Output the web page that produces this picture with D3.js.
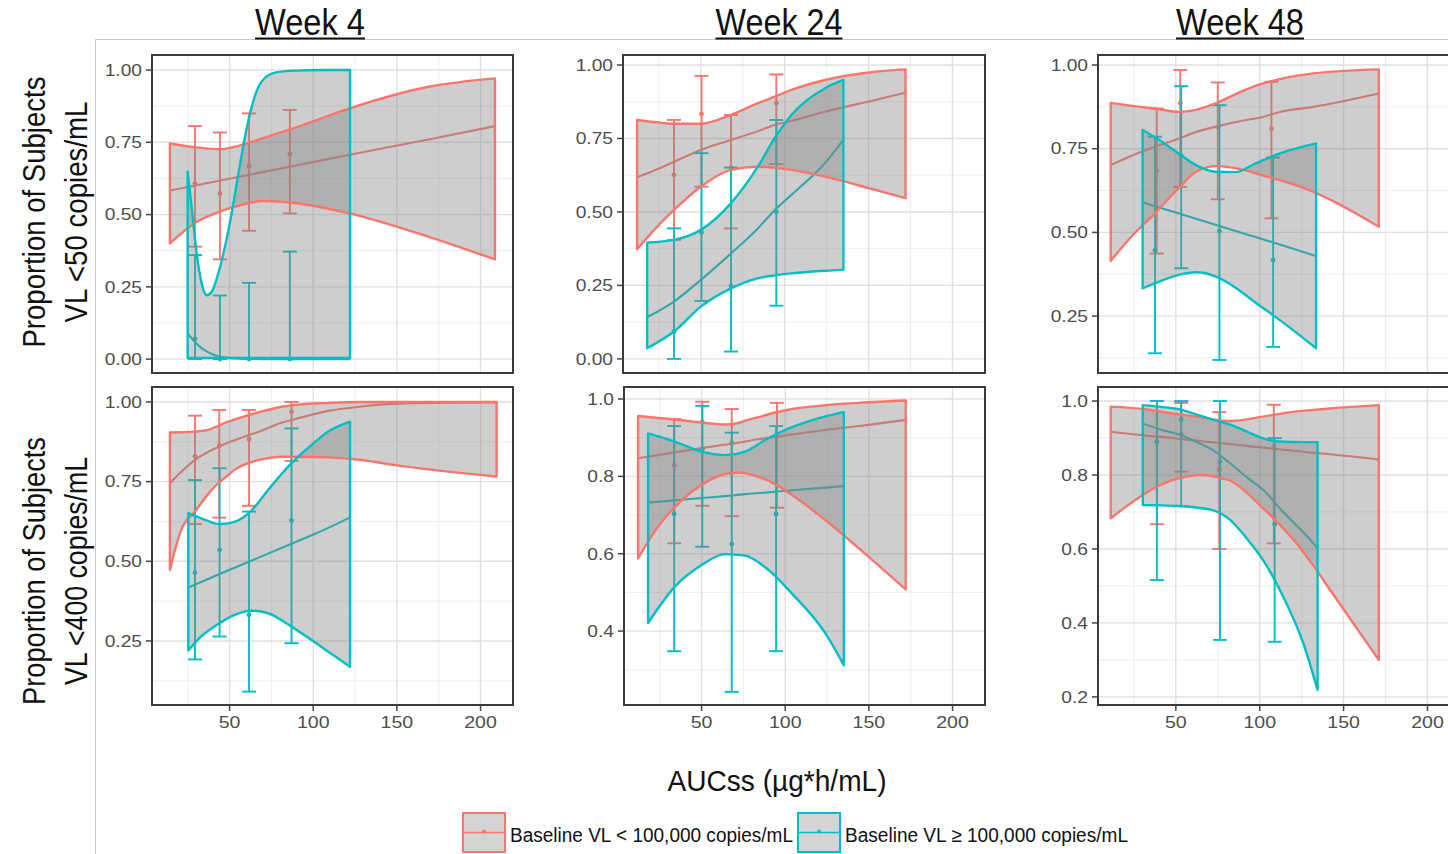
<!DOCTYPE html>
<html><head><meta charset="utf-8">
<script src="https://cdn.jsdelivr.net/npm/d3@7"></script>
<style>body{margin:0;background:#fff;} svg{display:block;font-family:"Liberation Sans",Arial,sans-serif;}</style>
</head><body><svg id="chart" width="1448" height="854"></svg>
<script>
// ---------- DATA ----------
const weekTitles = ["Week 4", "Week 24", "Week 48"];
const rowTitles = [["Proportion of Subjects", "VL <50 copies/mL"], ["Proportion of Subjects", "VL <400 copies/mL"]];
const xAxisTitle = "AUCss (\u00b5g*h/mL)";
const legendLabels = ["Baseline VL < 100,000 copies/mL", "Baseline VL \u2265 100,000 copies/mL"];
const xTicks = [50, 100, 150, 200];
const xDomain = [3.6, 219.4];
const yTicks2 = [0, 0.25, 0.5, 0.75, 1.0];
const yTicks1 = [0.2, 0.4, 0.6, 0.8, 1.0];

// bands: [AUC, lower, fit, upper]; points: [AUC, proportion, lowerCI, upperCI]
// Week 4, VL<50
const w4v50RedBand = [[14.3,0.40,0.583,0.746],[29,0.47,0.600,0.733],[44,0.51,0.617,0.726],[55,0.53,0.630,0.737],[69,0.547,0.646,0.763],[89,0.54,0.669,0.80],[121,0.505,0.706,0.866],[169,0.423,0.760,0.942],[208.6,0.345,0.806,0.971]];
const w4v50TealBand = [[24.9,0.004,0.089,0.648],[27.3,0.004,0.072,0.527],[30.3,0.004,0.053,0.366],[33.3,0.004,0.038,0.262],[36.3,0.004,0.027,0.221],[39.3,0.004,0.018,0.233],[43.2,0.004,0.010,0.296],[47.2,0.004,0.006,0.389],[51.2,0.004,0.003,0.504],[55.2,0.004,0.002,0.64],[59.2,0.004,0.001,0.769],[63.2,0.004,0.001,0.873],[69.1,0.004,0.0,0.96],[77.1,0.004,0.0,0.991],[89,0.004,0.0,0.998],[105,0.004,0.0,1.0],[122,0.004,0.0,1.0]];
const w4v50RedPts = [[29.3,0.608,0.389,0.806],[44.2,0.573,0.345,0.784],[61.6,0.668,0.444,0.85],[86,0.709,0.504,0.862]];
const w4v50TealPts = [[29.3,0.07,0.0,0.36],[44.2,0.0,0.0,0.22],[61.6,0.0,0.0,0.264],[86,0.0,0.0,0.372]];
// Week 24, VL<50
const w24v50RedBand = [[12,0.373,0.618,0.813],[24,0.45,0.645,0.805],[34,0.507,0.671,0.80],[50,0.586,0.711,0.80],[68,0.643,0.745,0.83],[84,0.654,0.775,0.87],[94,0.65,0.796,0.892],[104,0.643,0.81,0.915],[124,0.62,0.841,0.949],[154,0.575,0.881,0.977],[172,0.547,0.906,0.985]];
const w24v50TealBand = [[18,0.036,0.142,0.396],[34,0.093,0.195,0.405],[50,0.178,0.269,0.439],[68,0.24,0.359,0.53],[84,0.274,0.444,0.654],[94,0.284,0.506,0.751],[104,0.291,0.558,0.83],[124,0.30,0.666,0.921],[135,0.303,0.745,0.949]];
const w24v50RedPts = [[34,0.626,0.405,0.813],[50.4,0.833,0.586,0.963],[68,0.651,0.444,0.83],[95,0.870,0.663,0.968]];
const w24v50TealPts = [[34,0.093,0.0,0.444],[50.4,0.43,0.197,0.70],[68,0.248,0.025,0.651],[95,0.501,0.181,0.813]];
// Week 48, VL<50
const w48v50RedBand = [[11.2,0.415,0.701,0.887],[24,0.49,0.73,0.878],[37.6,0.557,0.756,0.870],[51.6,0.632,0.78,0.86],[62,0.681,0.80,0.866],[74,0.698,0.816,0.886],[91,0.686,0.835,0.925],[102,0.67,0.845,0.945],[112,0.656,0.86,0.958],[132,0.621,0.875,0.975],[171,0.517,0.915,0.987]];
const w48v50TealBand = [[30.2,0.333,0.590,0.806],[38.6,0.35,0.577,0.781],[51.6,0.373,0.557,0.736],[62,0.381,0.541,0.701],[74,0.368,0.522,0.681],[85.6,0.335,0.504,0.68],[97.6,0.29,0.486,0.706],[112,0.238,0.464,0.736],[133.6,0.154,0.429,0.766]];
const w48v50RedPts = [[38.6,0.684,0.437,0.870],[52.6,0.886,0.636,0.985],[75,0.814,0.599,0.948],[107,0.81,0.542,0.95]];
const w48v50TealPts = [[37.6,0.447,0.139,0.786],[53.2,0.729,0.393,0.937],[76,0.504,0.119,0.88],[108,0.417,0.158,0.724]];
// Week 4, VL<400
const w4v400RedBand = [[14.3,0.473,0.745,0.904],[21,0.598,0.78,0.905],[29.3,0.656,0.818,0.907],[37,0.71,0.843,0.912],[41,0.734,0.853,0.92],[49,0.77,0.872,0.938],[53,0.787,0.88,0.945],[69,0.82,0.91,0.970],[81,0.828,0.935,0.985],[89,0.828,0.946,0.991],[109,0.826,0.972,0.997],[129,0.818,0.986,1.0],[149,0.802,0.994,1.0],[209.6,0.766,0.999,1.0]];
const w4v400TealBand = [[25.3,0.22,0.418,0.651],[33,0.264,0.435,0.635],[44,0.306,0.46,0.617],[53,0.332,0.48,0.624],[63,0.345,0.502,0.659],[73,0.337,0.524,0.724],[87,0.295,0.555,0.808],[99,0.253,0.582,0.865],[109,0.216,0.605,0.907],[122,0.169,0.638,0.938]];
const w4v400RedPts = [[29.3,0.83,0.617,0.957],[43.8,0.863,0.637,0.975],[61.6,0.883,0.674,0.975],[87,0.970,0.815,1.0]];
const w4v400TealPts = [[29.3,0.464,0.192,0.755],[44,0.536,0.264,0.792],[61.6,0.332,0.091,0.656],[87,0.628,0.243,0.917]];
// Week 24, VL<400
const w24v400RedBand = [[12,0.588,0.847,0.956],[24,0.67,0.855,0.951],[34,0.721,0.862,0.947],[50,0.778,0.873,0.939],[64,0.806,0.882,0.934],[72,0.81,0.887,0.938],[76,0.808,0.89,0.944],[84,0.799,0.896,0.953],[94,0.78,0.902,0.965],[104,0.752,0.908,0.974],[124,0.687,0.92,0.984],[144,0.614,0.93,0.99],[172,0.508,0.946,0.996]];
const w24v400TealBand = [[18,0.421,0.732,0.911],[34,0.515,0.738,0.89],[50,0.571,0.744,0.864],[64,0.599,0.749,0.855],[76,0.595,0.754,0.864],[88,0.565,0.758,0.894],[104,0.497,0.764,0.927],[124,0.394,0.771,0.955],[135,0.312,0.775,0.966]];
const w24v400RedPts = [[33.6,0.829,0.627,0.948],[50.4,0.941,0.724,0.993],[68,0.887,0.697,0.974],[95,0.905,0.719,0.99]];
const w24v400TealPts = [[33.6,0.703,0.348,0.93],[50.4,0.87,0.618,0.982],[68,0.625,0.243,0.913],[94.5,0.703,0.348,0.93]];
// Week 48, VL<400
const w48v400RedBand = [[11.2,0.683,0.917,0.985],[31.7,0.75,0.907,0.978],[41.7,0.775,0.903,0.971],[51.6,0.791,0.898,0.964],[62,0.799,0.893,0.958],[65.9,0.80,0.891,0.955],[78,0.79,0.886,0.947],[82,0.786,0.884,0.946],[86,0.775,0.882,0.947],[102,0.71,0.874,0.958],[122,0.615,0.865,0.972],[132,0.555,0.860,0.976],[142,0.489,0.856,0.98],[171,0.30,0.842,0.989]];
const w48v400TealBand = [[30.3,0.719,0.939,0.989],[41.7,0.718,0.922,0.984],[51.6,0.716,0.91,0.978],[62,0.712,0.89,0.964],[71.9,0.705,0.868,0.95],[82,0.68,0.833,0.937],[92,0.63,0.795,0.918],[102,0.57,0.76,0.899],[114,0.471,0.70,0.89],[126,0.345,0.645,0.889],[134.5,0.219,0.602,0.889]];
const w48v400RedPts = [[38.7,0.89,0.667,1.0],[53.2,0.91,0.809,0.995],[75.9,0.815,0.6,0.97],[108.4,0.876,0.615,0.99]];
const w48v400TealPts = [[38.7,0.89,0.516,1.0],[53.2,0.95,0.716,1.0],[76.3,0.836,0.354,1.0],[108.9,0.667,0.349,0.9]];

// ---------- LAYOUT / STYLE ----------
const RED = "#F8766D", TEAL = "#00BFC4";
const panels = [
  {box:[152,55,513,373], yDomain:[-0.048,1.052], ticks:yTicks2, fmt:".2f", bottom:false, bands:[w4v50RedBand,w4v50TealBand], pts:[w4v50RedPts,w4v50TealPts]},
  {box:[623,55,985,373], yDomain:[-0.048,1.034], ticks:yTicks2, fmt:".2f", bottom:false, bands:[w24v50RedBand,w24v50TealBand], pts:[w24v50RedPts,w24v50TealPts]},
  {box:[1098,55,1460,373], yDomain:[0.080,1.030], ticks:yTicks2, fmt:".2f", bottom:false, bands:[w48v50RedBand,w48v50TealBand], pts:[w48v50RedPts,w48v50TealPts]},
  {box:[152,387,513,705], yDomain:[0.049,1.047], ticks:yTicks2, fmt:".2f", bottom:true, bands:[w4v400RedBand,w4v400TealBand], pts:[w4v400RedPts,w4v400TealPts]},
  {box:[624,387,985,705], yDomain:[0.209,1.031], ticks:yTicks1, fmt:".1f", bottom:true, bands:[w24v400RedBand,w24v400TealBand], pts:[w24v400RedPts,w24v400TealPts]},
  {box:[1098,387,1460,705], yDomain:[0.178,1.038], ticks:yTicks1, fmt:".1f", bottom:true, bands:[w48v400RedBand,w48v400TealBand], pts:[w48v400RedPts,w48v400TealPts]}
];
const colors = [RED, TEAL];

const svg = d3.select("#chart");
svg.append("rect").attr("width",1448).attr("height",854).attr("fill","#fff");
svg.append("line").attr("x1",95.5).attr("x2",95.5).attr("y1",39.5).attr("y2",854).attr("stroke","#c8c8c8").attr("stroke-width",1);
svg.append("line").attr("x1",95).attr("x2",1448).attr("y1",39.5).attr("y2",39.5).attr("stroke","#c8c8c8").attr("stroke-width",1);

const defs = svg.append("defs");

panels.forEach((p, i) => {
  const [x0,y0,x1,y1] = p.box;
  const x = d3.scaleLinear().domain(xDomain).range([x0,x1]);
  const y = d3.scaleLinear().domain(p.yDomain).range([y1,y0]);
  const g = svg.append("g");
  defs.append("clipPath").attr("id","clip"+i).append("rect").attr("x",x0).attr("y",y0).attr("width",x1-x0).attr("height",y1-y0);
  g.append("rect").attr("x",x0).attr("y",y0).attr("width",x1-x0).attr("height",y1-y0).attr("fill","#fff");
  const inner = g.append("g").attr("clip-path","url(#clip"+i+")");

  const ystep = p.ticks[1]-p.ticks[0];
  const yMajor = p.ticks.filter(t => t>=p.yDomain[0] && t<=p.yDomain[1]);
  const yMinor = [];
  p.ticks.forEach(t => { [t-ystep/2, t+ystep/2].forEach(m => { if (m>p.yDomain[0] && m<p.yDomain[1] && !yMinor.some(v=>Math.abs(v-m)<1e-9)) yMinor.push(m); }); });
  const xMinor = [];
  xTicks.forEach(t => { [t-25, t+25].forEach(m => { if (m>xDomain[0] && m<xDomain[1] && !xMinor.includes(m)) xMinor.push(m); }); });
  inner.selectAll(".ymin").data(yMinor).join("line").attr("x1",x0).attr("x2",x1).attr("y1",d=>y(d)).attr("y2",d=>y(d)).attr("stroke","#eeeeee").attr("stroke-width",1);
  inner.selectAll(".xmin").data(xMinor).join("line").attr("y1",y0).attr("y2",y1).attr("x1",d=>x(d)).attr("x2",d=>x(d)).attr("stroke","#eeeeee").attr("stroke-width",1);
  inner.selectAll(".ymaj").data(yMajor).join("line").attr("x1",x0).attr("x2",x1).attr("y1",d=>y(d)).attr("y2",d=>y(d)).attr("stroke","#e0e0e0").attr("stroke-width",1.4);
  inner.selectAll(".xmaj").data(xTicks).join("line").attr("y1",y0).attr("y2",y1).attr("x1",d=>x(d)).attr("x2",d=>x(d)).attr("stroke","#e0e0e0").attr("stroke-width",1.4);

  const line = d3.line().x(d=>x(d[0])).y(d=>y(d[2])).curve(d3.curveMonotoneX);
  const area = d3.area().x(d=>x(d[0])).y0(d=>y(d[1])).y1(d=>y(d[3])).curve(d3.curveMonotoneX);

  [0,1].forEach(k => {
    const c = colors[k];
    inner.append("path").datum(p.bands[k]).attr("d",line).attr("fill","none").attr("stroke",c).attr("stroke-width",2.1);
    const eb = inner.append("g").attr("stroke",c).attr("stroke-width",1.9).attr("fill","none");
    p.pts[k].forEach(d => {
      const cx = x(d[0]);
      eb.append("line").attr("x1",cx).attr("x2",cx).attr("y1",y(d[2])).attr("y2",y(d[3]));
      eb.append("line").attr("x1",cx-7).attr("x2",cx+7).attr("y1",y(d[2])).attr("y2",y(d[2]));
      eb.append("line").attr("x1",cx-7).attr("x2",cx+7).attr("y1",y(d[3])).attr("y2",y(d[3]));
    });
    inner.selectAll(null).data(p.pts[k]).join("circle").attr("cx",d=>x(d[0])).attr("cy",d=>y(d[1])).attr("r",2.4).attr("fill",c);
  });
  [0,1].forEach(k => {
    inner.append("path").datum(p.bands[k]).attr("d",area).attr("fill","#858585").attr("fill-opacity",0.4).attr("stroke","none");
  });
  [0,1].forEach(k => {
    inner.append("path").datum(p.bands[k]).attr("d",area).attr("fill","none").attr("stroke",colors[k]).attr("stroke-width",2.4).attr("stroke-linejoin","round");
  });

  g.append("rect").attr("x",x0).attr("y",y0).attr("width",x1-x0).attr("height",y1-y0).attr("fill","none").attr("stroke","#3a3a3a").attr("stroke-width",2);

  const fmt = d3.format(p.fmt);
  yMajor.forEach(t => {
    g.append("line").attr("x1",x0-6).attr("x2",x0).attr("y1",y(t)).attr("y2",y(t)).attr("stroke","#444").attr("stroke-width",1.5);
    g.append("text").attr("transform",`translate(${x0-10},${y(t)}) scale(1.2,1)`).attr("text-anchor","end").attr("dy","0.36em")
      .attr("font-size",16).attr("fill","#4d4d4d").text(fmt(t));
  });
  if (p.bottom) {
    xTicks.forEach(t => {
      if (x(t) > 1448) return;
      g.append("line").attr("x1",x(t)).attr("x2",x(t)).attr("y1",y1).attr("y2",y1+6).attr("stroke","#444").attr("stroke-width",1.5);
      g.append("text").attr("transform",`translate(${x(t)},${y1+23}) scale(1.15,1)`).attr("text-anchor","middle")
        .attr("font-size",17).attr("fill","#4d4d4d").text(t);
    });
  }
});

const titleX = [310, 779, 1240];
const titleLen = [110, 127, 128];
weekTitles.forEach((t, i) => {
  svg.append("text").attr("x",titleX[i]).attr("y",35).attr("text-anchor","middle").attr("font-size",37)
    .attr("textLength",titleLen[i]).attr("lengthAdjust","spacingAndGlyphs").attr("fill","#111").text(t);
  svg.append("line").attr("x1",titleX[i]-titleLen[i]/2).attr("x2",titleX[i]+titleLen[i]/2).attr("y1",38.5).attr("y2",38.5).attr("stroke","#111").attr("stroke-width",2.2);
});

const rowCenters = [212, 571];
const rowLens = [[271, 221], [268, 228]];
rowTitles.forEach((lines, r) => {
  [45, 87].forEach((bx, j) => {
    svg.append("text").attr("transform",`translate(${bx},${rowCenters[r]}) rotate(-90)`).attr("text-anchor","middle")
      .attr("font-size",31).attr("textLength",rowLens[r][j]).attr("lengthAdjust","spacingAndGlyphs").attr("fill","#111").text(lines[j]);
  });
});

svg.append("text").attr("x",777).attr("y",791).attr("text-anchor","middle").attr("font-size",30)
  .attr("textLength",219).attr("lengthAdjust","spacingAndGlyphs").attr("fill","#111").text(xAxisTitle);

const legX = [463, 798];
legendLabels.forEach((lab, k) => {
  const lx = legX[k], ly = 813, w = 42, h = 39;
  svg.append("rect").attr("x",lx).attr("y",ly).attr("width",w).attr("height",h).attr("fill","#d4d4d4").attr("stroke",colors[k]).attr("stroke-width",2);
  svg.append("line").attr("x1",lx).attr("x2",lx+w).attr("y1",ly+h/2).attr("y2",ly+h/2).attr("stroke",colors[k]).attr("stroke-width",1.7);
  svg.append("circle").attr("cx",lx+w/2).attr("cy",ly+h/2-1).attr("r",2).attr("fill",colors[k]);
  svg.append("text").attr("x",lx+47).attr("y",842).attr("font-size",20).attr("textLength",283).attr("lengthAdjust","spacingAndGlyphs")
    .attr("fill","#111").text(lab);
});
</script></body></html>
